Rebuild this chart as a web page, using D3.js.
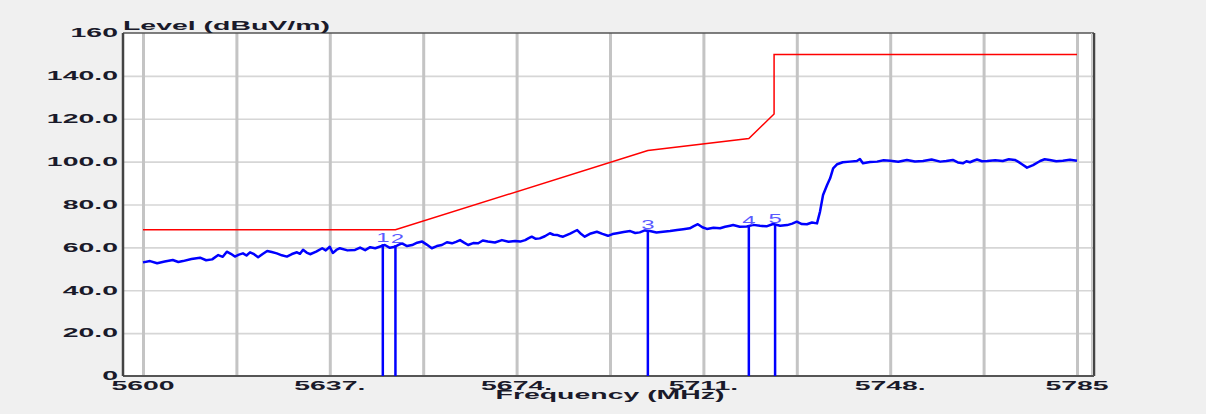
<!DOCTYPE html>
<html>
<head>
<meta charset="utf-8">
<script src="https://cdn.jsdelivr.net/npm/d3@7"></script>
<style>
  html, body { margin: 0; padding: 0; background: #f0f0f0; }
  svg { display: block; }
  text { font-family: "Liberation Sans", Arial, sans-serif; }
</style>
</head>
<body>
<svg id="chart" width="1206" height="414"></svg>
<script>
// ---------- data ----------
const traceFreq = [5600.0,5601.4,5602.8,5604.3,5605.9,5607.0,5607.9,5609.6,5611.3,5612.5,5613.7,5614.9,5615.8,5616.6,5617.4,5618.2,5619.0,5619.8,5620.5,5621.2,5622.0,5622.8,5623.7,5624.6,5625.5,5626.5,5627.5,5628.5,5629.5,5630.5,5631.1,5631.7,5632.4,5633.1,5634.3,5635.5,5636.2,5637.0,5637.6,5638.3,5639.0,5640.5,5642.0,5643.0,5644.0,5645.0,5646.0,5647.0,5647.9,5648.9,5649.9,5650.6,5651.3,5652.3,5653.3,5654.3,5655.3,5656.2,5657.2,5658.2,5659.2,5660.2,5661.2,5662.0,5662.8,5663.6,5664.4,5665.4,5666.4,5667.3,5668.3,5669.7,5671.1,5672.4,5673.7,5674.7,5675.7,5676.4,5677.0,5677.8,5678.6,5679.6,5680.6,5681.3,5682.0,5682.6,5683.2,5684.6,5686.0,5686.8,5687.5,5688.7,5689.9,5691.0,5692.1,5693.0,5693.9,5695.2,5696.5,5697.5,5698.4,5699.4,5700.4,5701.7,5703.0,5704.4,5705.8,5707.0,5708.3,5709.1,5709.9,5710.8,5711.7,5713.0,5714.3,5715.3,5716.3,5716.9,5718.2,5719.6,5720.9,5722.2,5723.5,5724.8,5726.2,5727.6,5728.6,5729.5,5730.5,5731.5,5732.5,5733.5,5734.1,5734.7,5735.5,5736.1,5736.7,5737.5,5738.6,5740.0,5741.4,5742.0,5742.6,5744.0,5745.4,5746.7,5748.0,5749.6,5751.3,5752.9,5754.5,5756.2,5757.9,5759.1,5760.4,5761.4,5762.4,5763.1,5763.8,5764.5,5765.2,5766.2,5767.2,5768.8,5770.3,5771.5,5772.7,5773.4,5774.1,5775.1,5776.3,5777.7,5778.6,5779.6,5780.9,5782.2,5783.6,5785.0];
const traceLevel = [53.0,53.6,52.6,53.4,54.1,53.2,53.6,54.6,55.2,54.0,54.4,56.4,55.6,58.0,57.0,55.7,56.6,57.2,56.2,57.7,56.8,55.4,56.9,58.3,57.8,57.2,56.3,55.7,56.9,57.7,57.0,58.9,57.6,56.8,58.0,59.6,58.6,60.3,57.4,58.8,59.6,58.6,58.8,59.9,58.7,60.1,59.6,60.4,61.1,59.8,60.3,61.2,61.9,60.6,61.1,62.2,62.7,61.3,59.6,60.6,61.1,62.4,61.9,62.6,63.4,62.2,61.1,62.0,61.9,63.2,62.7,62.3,63.4,62.6,63.0,62.7,63.4,64.3,65.0,64.0,64.2,65.2,66.6,65.9,65.8,65.3,65.0,66.4,68.1,66.2,65.0,66.5,67.3,66.3,65.4,66.2,66.6,67.2,67.6,66.7,67.0,67.9,67.6,66.9,67.3,67.6,68.1,68.5,68.9,69.9,70.8,69.4,68.6,69.2,68.9,69.6,70.1,70.4,69.6,69.7,70.5,70.1,69.8,70.9,70.1,70.4,71.1,72.0,70.9,70.8,71.6,71.2,76.7,84.4,89.1,92.2,96.9,98.8,99.7,100.0,100.3,101.2,99.2,99.8,100.0,100.6,100.4,99.9,100.8,100.1,100.3,101.0,100.0,100.3,100.8,99.6,99.2,100.2,99.7,100.4,101.0,100.2,100.3,100.6,100.3,101.1,100.8,99.9,98.8,97.2,98.4,100.3,101.1,100.8,100.2,100.4,100.9,100.4];

const limitFreq  = [5600, 5650, 5700, 5720, 5725, 5725, 5785];
const limitLevel = [68.2, 68.2, 105.2, 110.8, 122.2, 150, 150];

const markerIds   = ["1", "2", "3", "4", "5"];
const markerFreq  = [5647.5, 5650.0, 5700.0, 5720.0, 5725.2];
const markerLevel = [61.5, 61.0, 67.6, 69.5, 70.4];

const yTickValues = [0, 20, 40, 60, 80, 100, 120, 140, 160];
const yTickLabels = ["0", "20.0", "40.0", "60.0", "80.0", "100.0", "120.0", "140.0", "160"];
const xTickValues = [5600, 5618.5, 5637, 5655.5, 5674, 5692.5, 5711, 5729.5, 5748, 5766.5, 5785];
const xTickLabels = ["5600", "", "5637.", "", "5674.", "", "5711.", "", "5748.", "", "5785"];

const yTitle = "Level (dBuV/m)";
const xTitle = "Frequency (MHz)";

// ---------- layout ----------
const frame = { left: 123, right: 1094, top: 33, bottom: 376 };
const x = d3.scaleLinear().domain([5600, 5785]).range([143, 1077]);
const y = d3.scaleLinear().domain([0, 160]).range([frame.bottom, frame.top]);
const SX = 2.37; // horizontal text stretch seen in the reference

const svg = d3.select("#chart");
svg.append("rect").attr("width", 1206).attr("height", 414).attr("fill", "#f0f0f0");

// plot background
svg.append("rect")
  .attr("x", frame.left).attr("y", frame.top)
  .attr("width", frame.right - frame.left).attr("height", frame.bottom - frame.top)
  .attr("fill", "#ffffff");

// horizontal grid
svg.append("g")
  .attr("transform", `translate(${frame.left},0)`)
  .call(d3.axisLeft(y).tickValues(yTickValues.filter(v => v > 0 && v < 160))
        .tickSize(-(frame.right - frame.left)).tickFormat(""))
  .call(g => g.select(".domain").remove())
  .call(g => g.selectAll(".tick line").attr("stroke", "#d6d6d6").attr("stroke-width", 1.6));

// vertical grid
svg.append("g")
  .attr("transform", `translate(0,${frame.bottom})`)
  .call(d3.axisBottom(x).tickValues(xTickValues)
        .tickSize(-(frame.bottom - frame.top)).tickFormat(""))
  .call(g => g.select(".domain").remove())
  .call(g => g.selectAll(".tick line").attr("stroke", "#c4c4c4").attr("stroke-width", 3));

// frame
svg.append("line").attr("x1", frame.left).attr("x2", frame.right)
  .attr("y1", frame.top).attr("y2", frame.top).attr("stroke", "#555").attr("stroke-width", 1.5);
svg.append("line").attr("x1", frame.right).attr("x2", frame.right)
  .attr("y1", frame.top).attr("y2", frame.bottom).attr("stroke", "#444").attr("stroke-width", 2.5);
svg.append("line").attr("x1", frame.right - 2.5).attr("x2", frame.right - 2.5)
  .attr("y1", frame.top).attr("y2", frame.bottom).attr("stroke", "#c8c8c8").attr("stroke-width", 1);
svg.append("line").attr("x1", frame.left).attr("x2", frame.right)
  .attr("y1", frame.bottom).attr("y2", frame.bottom).attr("stroke", "#555").attr("stroke-width", 2);
svg.append("line").attr("x1", frame.left).attr("x2", frame.left)
  .attr("y1", frame.top).attr("y2", frame.bottom).attr("stroke", "#444").attr("stroke-width", 2.5);

// limit line
const line = d3.line().x(d => x(d[0])).y(d => y(d[1]));
svg.append("path")
  .datum(limitFreq.map((f, i) => [f, limitLevel[i]]))
  .attr("d", line).attr("fill", "none").attr("stroke", "#ff0000").attr("stroke-width", 1.5);

// markers
svg.append("g").selectAll("line").data(markerFreq).join("line")
  .attr("x1", d => x(d)).attr("x2", d => x(d))
  .attr("y1", y(0)).attr("y2", (d, i) => y(markerLevel[i]))
  .attr("stroke", "#0000ff").attr("stroke-width", 2.5);

// trace
svg.append("path")
  .datum(traceFreq.map((f, i) => [f, traceLevel[i]]))
  .attr("d", line).attr("fill", "none").attr("stroke", "#0000ff")
  .attr("stroke-width", 2.5).attr("stroke-linejoin", "round");

// stretched text helper
function stext(parent, tx, ty, str, anchor, opts) {
  const g = parent.append("g").attr("transform", `translate(${tx},${ty}) scale(${opts.sx || SX},1)`);
  g.append("text").attr("text-anchor", anchor)
    .attr("font-size", opts.size || 12)
    .attr("font-weight", opts.weight || "bold")
    .attr("fill", opts.fill || "#1a1a2a")
    .text(str);
  return g;
}

// marker labels
const ml = svg.append("g");
markerIds.forEach((id, i) => {
  stext(ml, x(markerFreq[i]) + (i === 1 ? 2 : 0), y(markerLevel[i]) - 2, id, "middle",
        { size: 12, weight: "normal", fill: "#5a5aff", sx: 2.0 });
});

// y tick labels
const yl = svg.append("g");
yTickValues.forEach((v, i) => stext(yl, 118, y(v) + 4.3, yTickLabels[i], "end", {}));

// x tick labels
const xl = svg.append("g");
xTickValues.forEach((v, i) => {
  if (xTickLabels[i]) stext(xl, x(v), 390, xTickLabels[i], "middle", {});
});

// titles
stext(svg, frame.left, 30, yTitle, "start", {});
stext(svg, 610, 399, xTitle, "middle", {});
</script>
</body>
</html>
